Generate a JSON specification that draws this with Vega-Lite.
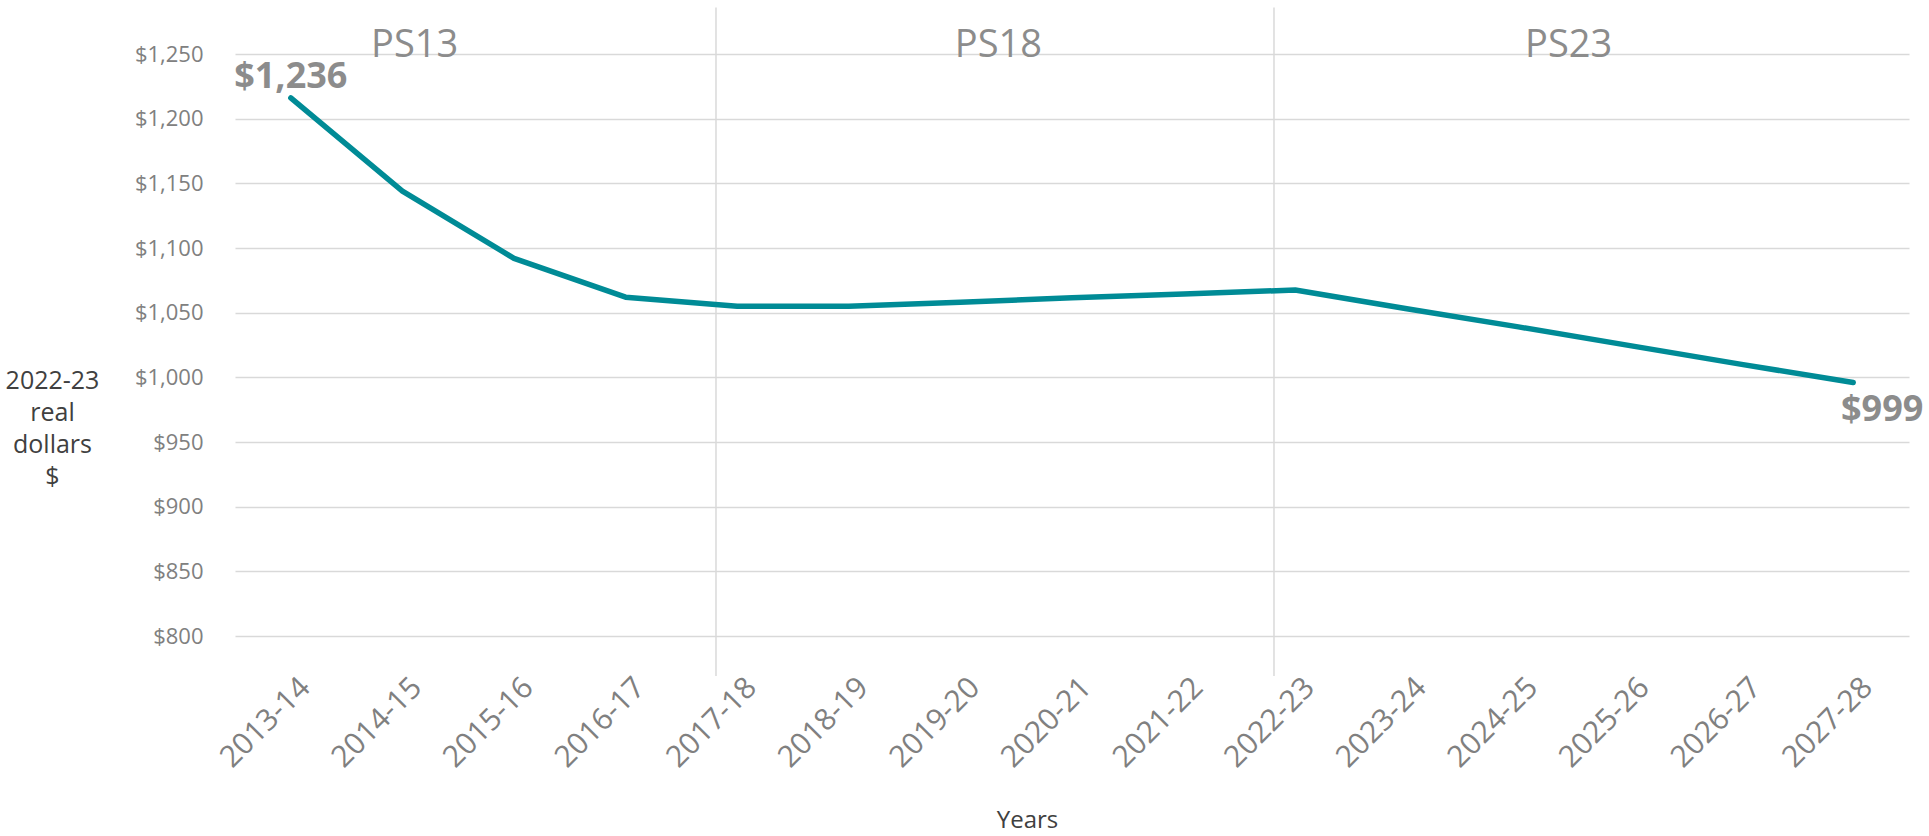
{
  "$schema": "https://vega.github.io/schema/vega-lite/v6.json",
  "width": 1674,
  "height": 582,
  "autosize": {"type": "none"},
  "padding": {"left": 235, "top": 54, "right": 20, "bottom": 200},
  "background": "white",
  "config": {"view": {"stroke": null}, "font": "Open Sans"},
  "datasets": {
    "main": [
      {"year": "2013-14", "value": 1216, "label": "$1,236"},
      {"year": "2014-15", "value": 1144},
      {"year": "2015-16", "value": 1092},
      {"year": "2016-17", "value": 1062},
      {"year": "2017-18", "value": 1055},
      {"year": "2018-19", "value": 1055},
      {"year": "2019-20", "value": 1058},
      {"year": "2020-21", "value": 1061.5},
      {"year": "2021-22", "value": 1064.5},
      {"year": "2022-23", "value": 1067.5},
      {"year": "2023-24", "value": 1053},
      {"year": "2024-25", "value": 1039},
      {"year": "2025-26", "value": 1024.5},
      {"year": "2026-27", "value": 1010},
      {"year": "2027-28", "value": 996, "label": "$999"}
    ],
    "bounds": [
      {"year": "2017-18"},
      {"year": "2022-23"}
    ],
    "phases": [
      {"year": "2014-15", "phase": "PS13"},
      {"year": "2019-20", "phase": "PS18"},
      {"year": "2024-25", "phase": "PS23"}
    ]
  },
  "encoding": {
    "x": {
      "field": "year",
      "type": "nominal",
      "scale": {
        "type": "band",
        "paddingInner": 0,
        "paddingOuter": 0,
        "domain": ["2013-14","2014-15","2015-16","2016-17","2017-18","2018-19","2019-20","2020-21","2021-22","2022-23","2023-24","2024-25","2025-26","2026-27","2027-28"]
      },
      "axis": {
        "title": "Years",
        "titleFontSize": 24,
        "titleFontWeight": "normal",
        "titleColor": "#404040",
        "titleX": 792,
        "titleY": 191,
        "titleAlign": "center",
        "titleBaseline": "alphabetic",
        "labelAngle": -45,
        "labelAlign": "right",
        "labelBaseline": "top",
        "labelFontSize": 30,
        "labelColor": "#808080",
        "labelPadding": 36,
        "labelOffset": 4,
        "ticks": false,
        "domain": false,
        "grid": false
      }
    }
  },
  "layer": [
    {
      "data": {"name": "bounds"},
      "mark": {"type": "rule", "color": "#d9d9d9", "strokeWidth": 1.5},
      "encoding": {
        "x": {"field": "year", "type": "nominal", "bandPosition": 0.31},
        "y": {"datum": 1286, "type": "quantitative"},
        "y2": {"datum": 769}
      }
    },
    {
      "data": {"name": "main"},
      "mark": {"type": "line", "color": "#008B96", "strokeWidth": 5.5, "strokeCap": "round", "strokeJoin": "round"},
      "encoding": {
        "x": {"field": "year", "type": "nominal", "bandPosition": 0.5},
        "y": {
          "field": "value",
          "type": "quantitative",
          "scale": {"domain": [800, 1250], "zero": false, "nice": false},
          "axis": {
            "values": [800, 850, 900, 950, 1000, 1050, 1100, 1150, 1200, 1250],
            "format": "$,.0f",
            "labelFontSize": 22,
            "labelColor": "#808080",
            "labelPadding": 32,
            "ticks": false,
            "domain": false,
            "grid": true,
            "gridColor": "#d9d9d9",
            "gridWidth": 1.5,
            "title": ["2022-23", "real", "dollars", "$"],
            "titleAngle": 0,
            "titleAlign": "center",
            "titleBaseline": "alphabetic",
            "titleX": -183,
            "titleY": 334,
            "titleFontSize": 25,
            "titleLineHeight": 32,
            "titleFontWeight": "normal",
            "titleColor": "#404040"
          }
        }
      }
    },
    {
      "data": {"name": "main"},
      "transform": [{"filter": "datum.year === '2013-14'"}],
      "mark": {"type": "text", "fontSize": 36, "fontWeight": "bold", "color": "#8c8c8c", "align": "center", "baseline": "alphabetic", "dy": -10},
      "encoding": {
        "x": {"field": "year", "type": "nominal", "bandPosition": 0.5},
        "y": {"field": "value", "type": "quantitative"},
        "text": {"field": "label"}
      }
    },
    {
      "data": {"name": "main"},
      "transform": [{"filter": "datum.year === '2027-28'"}],
      "mark": {"type": "text", "fontSize": 36, "fontWeight": "bold", "color": "#8c8c8c", "align": "center", "baseline": "alphabetic", "dx": 29, "dy": 38},
      "encoding": {
        "x": {"field": "year", "type": "nominal", "bandPosition": 0.5},
        "y": {"field": "value", "type": "quantitative"},
        "text": {"field": "label"}
      }
    },
    {
      "data": {"name": "phases"},
      "transform": [{"filter": "datum.phase === 'PS13'"}],
      "mark": {"type": "text", "fontSize": 38, "color": "#8c8c8c", "align": "center", "baseline": "alphabetic"},
      "encoding": {
        "x": {"field": "year", "type": "nominal", "bandPosition": 0.61},
        "y": {"datum": 1248, "type": "quantitative"},
        "text": {"field": "phase"}
      }
    },
    {
      "data": {"name": "phases"},
      "transform": [{"filter": "datum.phase === 'PS18'"}],
      "mark": {"type": "text", "fontSize": 38, "color": "#8c8c8c", "align": "center", "baseline": "alphabetic"},
      "encoding": {
        "x": {"field": "year", "type": "nominal", "bandPosition": 0.84},
        "y": {"datum": 1248, "type": "quantitative"},
        "text": {"field": "phase"}
      }
    },
    {
      "data": {"name": "phases"},
      "transform": [{"filter": "datum.phase === 'PS23'"}],
      "mark": {"type": "text", "fontSize": 38, "color": "#8c8c8c", "align": "center", "baseline": "alphabetic"},
      "encoding": {
        "x": {"field": "year", "type": "nominal", "bandPosition": 0.95},
        "y": {"datum": 1248, "type": "quantitative"},
        "text": {"field": "phase"}
      }
    }
  ]
}
